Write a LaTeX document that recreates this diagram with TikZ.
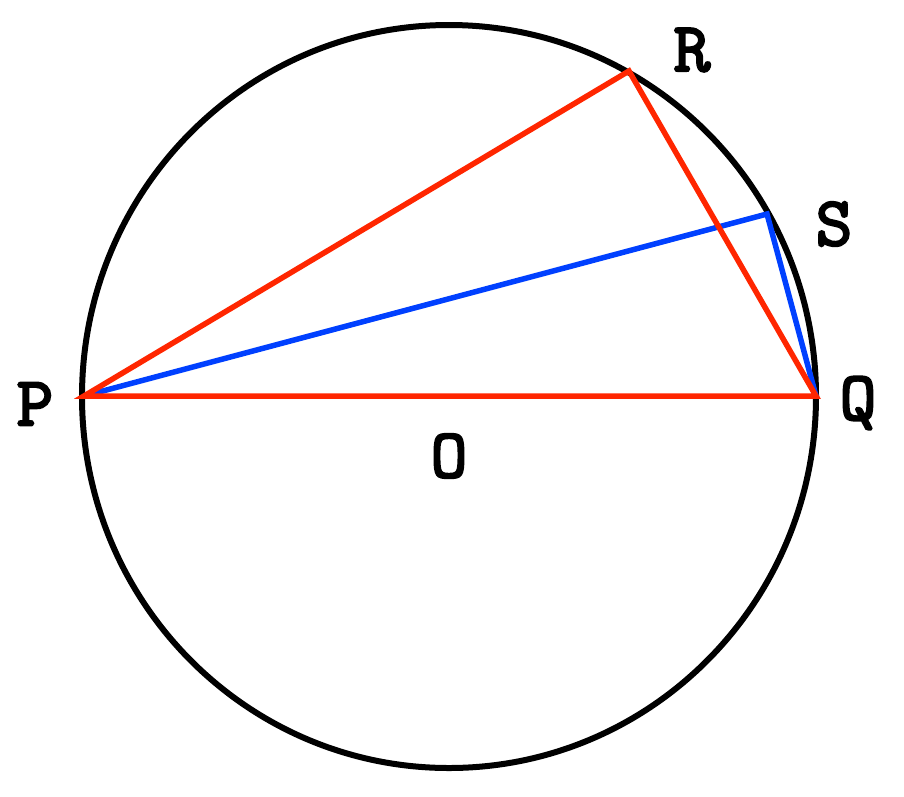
\documentclass[tikz,border=0pt]{standalone}
\usepackage{fontspec}
\newfontfamily\labfont{lmmono10-regular.otf}[FakeBold=3]
\begin{document}
\begin{tikzpicture}[x=1pt,y=-1pt,
  lab/.style={font=\labfont\fontsize{70}{70}\selectfont, inner sep=0pt},
  redline/.style={draw={rgb,255:red,255;green,38;blue,0}, line width=5.5pt, line join=miter},
  blueline/.style={draw={rgb,255:red,0;green,64;blue,255}, line width=5.5pt, line join=miter}]
\useasboundingbox (0,0) rectangle (904,796);
\fill[white] (0,0) rectangle (904,796);
\draw[line width=6pt] (449,396.5) ellipse [x radius=367, y radius=371.5];
\coordinate (P) at (84,396);
\coordinate (Q) at (816,396);
\coordinate (R) at (629,71);
\coordinate (S) at (767,214);
\draw[blueline] (P) -- (S) -- (Q);
\draw[redline] (P) -- (R) -- (Q) -- cycle;
\node[lab] (lP) at (35,404) {P};
\node[lab] (lQ) at (858,403) {Q};
\node[lab] (lR) at (692,50) {R};
\node[lab] (lS) at (834,224) {S};
\node[lab] (lO) at (449,456) {O};
\end{tikzpicture}
\end{document}
